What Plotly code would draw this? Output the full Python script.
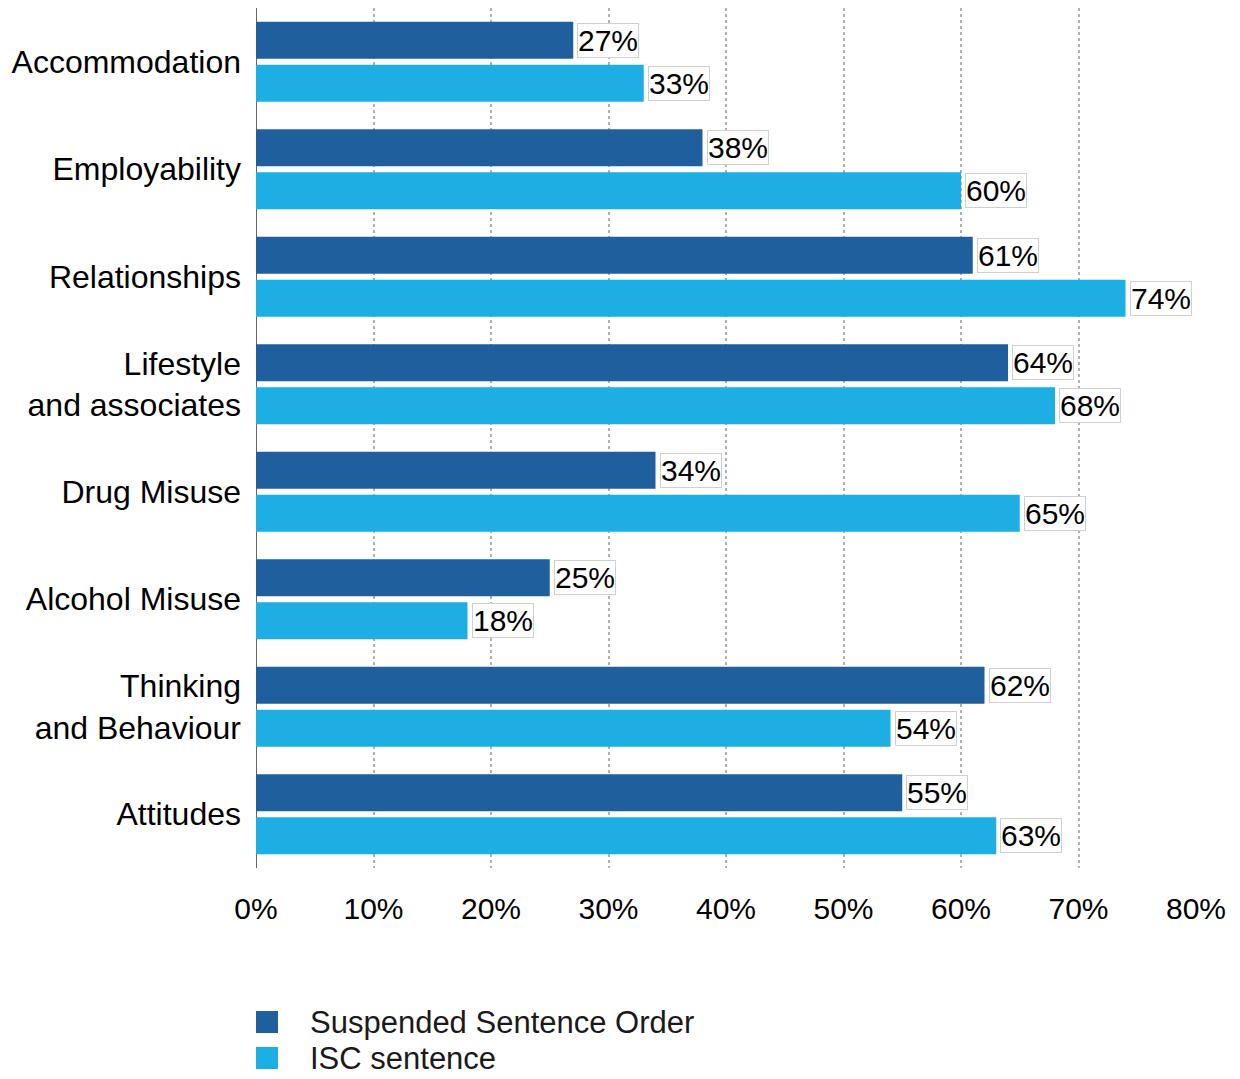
import plotly.graph_objects as go

# Needs addressed, share of offenders per sentence type
categories = [
    "Accommodation",
    "Employability",
    "Relationships",
    "Lifestyle<br>and associates",
    "Drug Misuse",
    "Alcohol Misuse",
    "Thinking<br>and Behaviour",
    "Attitudes",
]
sso_values = [27, 38, 61, 64, 34, 25, 62, 55]
isc_values = [33, 60, 74, 68, 65, 18, 54, 63]
series_names = ["Suspended Sentence Order", "ISC sentence"]
x_ticks = [0, 10, 20, 30, 40, 50, 60, 70, 80]
x_tick_labels = [f"{t}%" for t in x_ticks]

SSO_COLOR = "#1F5F9E"
ISC_COLOR = "#1DAEE3"
FONT = "Liberation Sans, Arial, sans-serif"
colors = [SSO_COLOR, ISC_COLOR]

fig = go.Figure()
for name, vals, color in zip(series_names, [sso_values, isc_values], colors):
    fig.add_trace(go.Bar(
        y=categories, x=vals, name=name, orientation="h",
        marker=dict(color=color, line=dict(width=0)),
        showlegend=False,
    ))

# Value labels in small white boxes beside each bar
for i in range(len(categories)):
    for vals, off in [(sso_values, -0.2), (isc_values, 0.2)]:
        fig.add_annotation(
            x=vals[i], y=i + off, xref="x", yref="y",
            text=f"{vals[i]}%", showarrow=False,
            xanchor="left", yanchor="middle", xshift=4,
            font=dict(family=FONT, size=30, color="#000"),
            bgcolor="#fff", bordercolor="#d0d0d0", borderwidth=1, borderpad=0,
        )

# Legend below the plot: colour squares with series names
PLOT_H = 1079 - 8 - 211
PLOT_W = 1240 - 256 - 44
for k, (name, color) in enumerate(zip(series_names, colors)):
    cy = -(1022 + 36 * k - 868) / PLOT_H
    half_h = 11 / PLOT_H
    fig.add_shape(
        type="rect", xref="paper", yref="paper",
        x0=0, x1=22 / PLOT_W, y0=cy - half_h, y1=cy + half_h,
        fillcolor=color, line=dict(width=0),
    )
    fig.add_annotation(
        x=53 / PLOT_W, y=cy, xref="paper", yref="paper",
        text=name, showarrow=False, xanchor="left", yanchor="middle",
        font=dict(family=FONT, size=31, color="#1a1a1a"), borderpad=0,
    )

fig.update_layout(
    width=1240, height=1079,
    margin=dict(l=256, r=44, t=8, b=211, autoexpand=False),
    paper_bgcolor="#fff", plot_bgcolor="#fff",
    barmode="group", bargap=0.2, bargroupgap=0.14,
    font=dict(family=FONT, size=30, color="#000"),
    showlegend=False,
)
fig.update_xaxes(
    range=[0, 80], tickvals=x_ticks, ticktext=x_tick_labels,
    showgrid=True, gridcolor="#b0b0b8", griddash="dot", gridwidth=2,
    zeroline=True, zerolinecolor="#666", zerolinewidth=1,
    showline=False, ticks="", ticklabelstandoff=20,
    tickfont=dict(size=30),
)
fig.update_yaxes(
    autorange="reversed", showgrid=False, ticks="",
    ticklabelstandoff=14, tickfont=dict(size=32),
)

fig.write_html("out.html")
